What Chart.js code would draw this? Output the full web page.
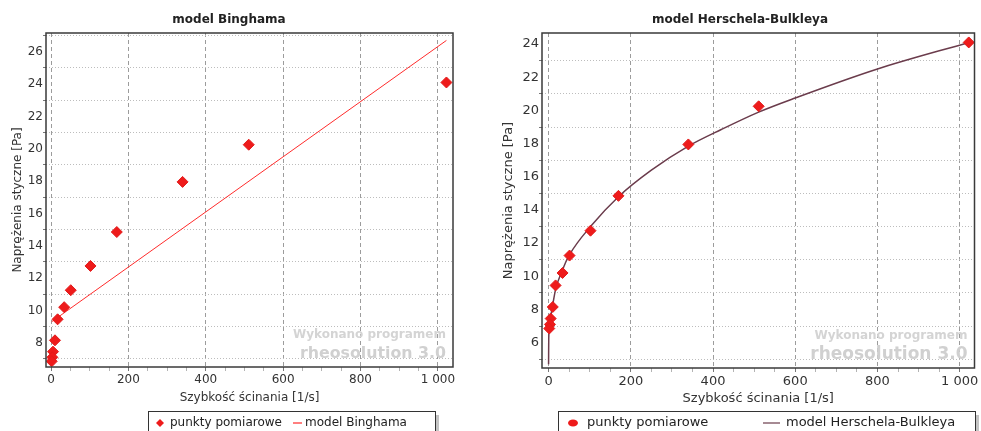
<!DOCTYPE html>
<html>
<head>
<meta charset="utf-8">
<script src="https://cdn.jsdelivr.net/npm/chart.js@4"></script>
<style>
  body { margin: 0; background: #fff; }
  canvas { position: absolute; top: 0; }
</style>
</head>
<body>
<canvas id="bingham" width="490" height="431" style="left:0"></canvas>
<canvas id="hb" width="491" height="431" style="left:490px"></canvas>
<script>
// measured points (shear rate [1/s], shear stress [Pa])
const shearRate = [1022, 511, 340, 170, 102, 51, 34, 17, 10.2, 5.1, 3.4, 1.7];
const shearStress = [24.1, 20.25, 17.95, 14.85, 12.75, 11.25, 10.2, 9.45, 8.15, 7.45, 7.1, 6.85];

// model Binghama line
const binghamRate = [1.7, 1022];
const binghamStress = [9.3, 26.7];

// model Herschela-Bulkleya curve
const hbRate = [0, 0.4, 1.7, 3.4, 5.1, 10.2, 17, 34, 51, 102, 170, 250, 340, 420, 511, 600, 800, 1022];
const hbStress = [4.7, 6.2, 6.75, 7.2, 7.55, 8.3, 9.2, 10.4, 11.3, 13.0, 14.8, 16.4, 17.85, 18.85, 19.9, 20.75, 22.5, 24.1];

const xTickLabels = [0, 200, 400, 600, 800, 1000];
const xMinorStep = 50;
const yTickLabels = [6, 8, 10, 12, 14, 16, 18, 20, 22, 24, 26];

const FONT = "'DejaVu Sans', Verdana, sans-serif";

function toXY(xs, ys) {
  return xs.map((x, i) => ({ x: x, y: ys[i] }));
}

function isMajor(v) {
  return xTickLabels.some((t) => Math.abs(t - v) < 1e-6);
}

function fmtX(v) {
  if (!isMajor(v)) return '';
  v = Math.round(v);
  return v >= 1000 ? String(v).replace(/(\d)(\d{3})$/, '$1 $2') : String(v);
}

// frame, title, watermark and legend box
const decor = {
  id: 'decor',
  beforeDatasetsDraw(chart) {
    const o = chart.options.plugins.decor;
    const ctx = chart.ctx;
    const a = chart.chartArea;
    ctx.save();
    ctx.fillStyle = '#d4d4d4';
    ctx.textAlign = 'right';
    ctx.textBaseline = 'middle';
    ctx.font = 'bold 12px ' + FONT;
    ctx.fillText('Wykonano programem', a.right - o.wmRight, a.bottom - 32);
    ctx.font = 'bold 18px ' + FONT;
    let w = ctx.measureText('rheosolution 3.0').width;
    ctx.font = 'bold ' + (18 * o.wmWidth / w).toFixed(1) + 'px ' + FONT;
    ctx.fillStyle = '#d0d0d0';
    ctx.fillText('rheosolution 3.0', a.right - o.wmRight, a.bottom - 13);
    ctx.restore();
  },
  afterDraw(chart) {
    const o = chart.options.plugins.decor;
    const ctx = chart.ctx;
    const a = chart.chartArea;
    ctx.save();
    ctx.strokeStyle = '#3a3a3a';
    ctx.lineWidth = 1.5;
    ctx.strokeRect(a.left, a.top, a.right - a.left, a.bottom - a.top);

    ctx.fillStyle = '#222';
    ctx.font = 'bold 12px ' + FONT;
    ctx.textAlign = 'center';
    ctx.textBaseline = 'middle';
    ctx.fillText(o.title, o.titleX, 20);

    // legend
    const lg = o.legend;
    ctx.fillStyle = '#c4c4c4';
    ctx.fillRect(lg.x1 + 1, lg.y + 4, 3, 40);
    ctx.fillStyle = '#fff';
    ctx.fillRect(lg.x0, lg.y, lg.x1 - lg.x0, 40);
    ctx.strokeStyle = '#333';
    ctx.lineWidth = 1;
    ctx.strokeRect(lg.x0 + 0.5, lg.y + 0.5, lg.x1 - lg.x0, 40);
    const cy = lg.y + 12;
    const pts = chart.data.datasets[0];
    const line = chart.data.datasets[1];
    ctx.fillStyle = pts.backgroundColor;
    ctx.beginPath();
    if (lg.ellipse) {
      ctx.ellipse(lg.mark, cy, 5, 3.5, 0, 0, Math.PI * 2);
    } else {
      ctx.moveTo(lg.mark, cy - 4);
      ctx.lineTo(lg.mark + 4, cy);
      ctx.lineTo(lg.mark, cy + 4);
      ctx.lineTo(lg.mark - 4, cy);
      ctx.closePath();
    }
    ctx.fill();
    ctx.strokeStyle = line.borderColor;
    ctx.lineWidth = 1.2;
    ctx.beginPath();
    ctx.moveTo(lg.line0, cy);
    ctx.lineTo(lg.line1, cy);
    ctx.stroke();
    ctx.fillStyle = '#222';
    ctx.font = o.fontSize + 'px ' + FONT;
    ctx.textAlign = 'left';
    ctx.fillText(pts.label, lg.text0, cy);
    ctx.fillText(line.label, lg.text1, cy);
    ctx.restore();
  }
};

function makeChart(id, cfg) {
  const fs = cfg.fontSize;
  new Chart(document.getElementById(id), {
    type: 'scatter',
    data: {
      datasets: [
        {
          label: 'punkty pomiarowe',
          data: toXY(shearRate, shearStress),
          pointStyle: 'rectRot',
          pointRadius: 5.5,
          pointHoverRadius: 5.5,
          pointBorderWidth: 1,
          backgroundColor: '#ee1b1b',
          borderColor: '#e21a1a'
        },
        {
          label: cfg.modelLabel,
          data: toXY(cfg.modelX, cfg.modelY),
          type: 'line',
          showLine: true,
          pointRadius: 0,
          borderWidth: cfg.lineWidth,
          borderColor: cfg.lineColor,
          cubicInterpolationMode: 'monotone',
          fill: false
        }
      ]
    },
    options: {
      responsive: false,
      animation: false,
      layout: { padding: { left: 0, top: cfg.top, right: cfg.padRight, bottom: 0 } },
      plugins: {
        legend: { display: false },
        title: { display: false },
        tooltip: { enabled: false },
        decor: {
          title: cfg.title, titleX: cfg.titleX, fontSize: fs,
          wmRight: cfg.wmRight, wmWidth: cfg.wmWidth, legend: cfg.legend
        }
      },
      scales: {
        x: {
          type: 'linear',
          min: cfg.xMin, max: cfg.xMax,
          border: { display: false, dash: [4, 3] },
          grid: {
            color: (c) => c.tick && isMajor(c.tick.value) ? '#9c9c9c' : 'transparent',
            tickColor: (c) => c.tick && isMajor(c.tick.value) ? '#777' : '#b4b4b4',
            tickLength: 4,
            lineWidth: 1
          },
          ticks: {
            autoSkip: false, maxRotation: 0, padding: 2, color: '#333',
            font: { family: FONT, size: fs },
            callback: fmtX
          },
          afterBuildTicks: (s) => {
            const t = [];
            for (let v = 0; v <= xTickLabels[xTickLabels.length - 1]; v += xMinorStep) t.push({ value: v });
            s.ticks = t;
          },
          title: {
            display: true, text: 'Szybkość ścinania [1/s]', color: '#333',
            font: { family: FONT, size: fs }, padding: { top: 0, bottom: cfg.xTitlePad }
          },
          afterFit: (s) => { s.height = cfg.xHeight; s.paddingLeft = 0; s.paddingRight = 0; }
        },
        y: {
          type: 'linear',
          min: cfg.yMin, max: cfg.yMax,
          border: { display: false, dash: [1, 2] },
          grid: {
            color: (c) => c.tick && c.tick.value % 2 === 1 ? '#bdbdbd' : 'transparent',
            tickColor: (c) => c.tick && c.tick.value % 2 === 1 ? '#777' : 'transparent',
            tickLength: 3,
            lineWidth: 1
          },
          ticks: {
            stepSize: 1, autoSkip: false, includeBounds: false, maxTicksLimit: 100,
            padding: 0, color: '#333',
            font: { family: FONT, size: fs },
            callback: (v) => yTickLabels.includes(v) ? String(v) : ''
          },
          title: {
            display: true, text: 'Naprężenia styczne [Pa]', color: '#333',
            font: { family: FONT, size: fs }, padding: { top: 11, bottom: 0 }
          },
          afterFit: (s) => { s.width = cfg.yWidth; s.paddingTop = 0; s.paddingBottom = 0; }
        }
      }
    },
    plugins: [decor]
  });
}

makeChart('bingham', {
  title: 'model Binghama', titleX: 229, fontSize: 12,
  modelLabel: 'model Binghama', modelX: binghamRate, modelY: binghamStress,
  lineColor: '#ff2b2b', lineWidth: 1,
  xMin: -13, xMax: 1039, yMin: 6.5, yMax: 27.16,
  top: 33, padRight: 37, yWidth: 46, xHeight: 64, xTitlePad: 26,
  wmRight: 7, wmWidth: 146,
  legend: { x0: 148, x1: 435, y: 411, mark: 160, text0: 170, line0: 293, line1: 302, text1: 305, ellipse: false }
});

makeChart('hb', {
  title: 'model Herschela-Bulkleya', titleX: 250, fontSize: 13,
  modelLabel: 'model Herschela-Bulkleya', modelX: hbRate, modelY: hbStress,
  lineColor: '#6b3c4c', lineWidth: 1.5,
  xMin: -16, xMax: 1036, yMin: 4.47, yMax: 24.67,
  top: 33, padRight: 1, yWidth: 52, xHeight: 63, xTitlePad: 25,
  wmRight: 7, wmWidth: 157,
  legend: { x0: 68, x1: 485, y: 411, mark: 83, text0: 97, line0: 273, line1: 290, text1: 296, ellipse: true }
});
</script>
</body>
</html>
